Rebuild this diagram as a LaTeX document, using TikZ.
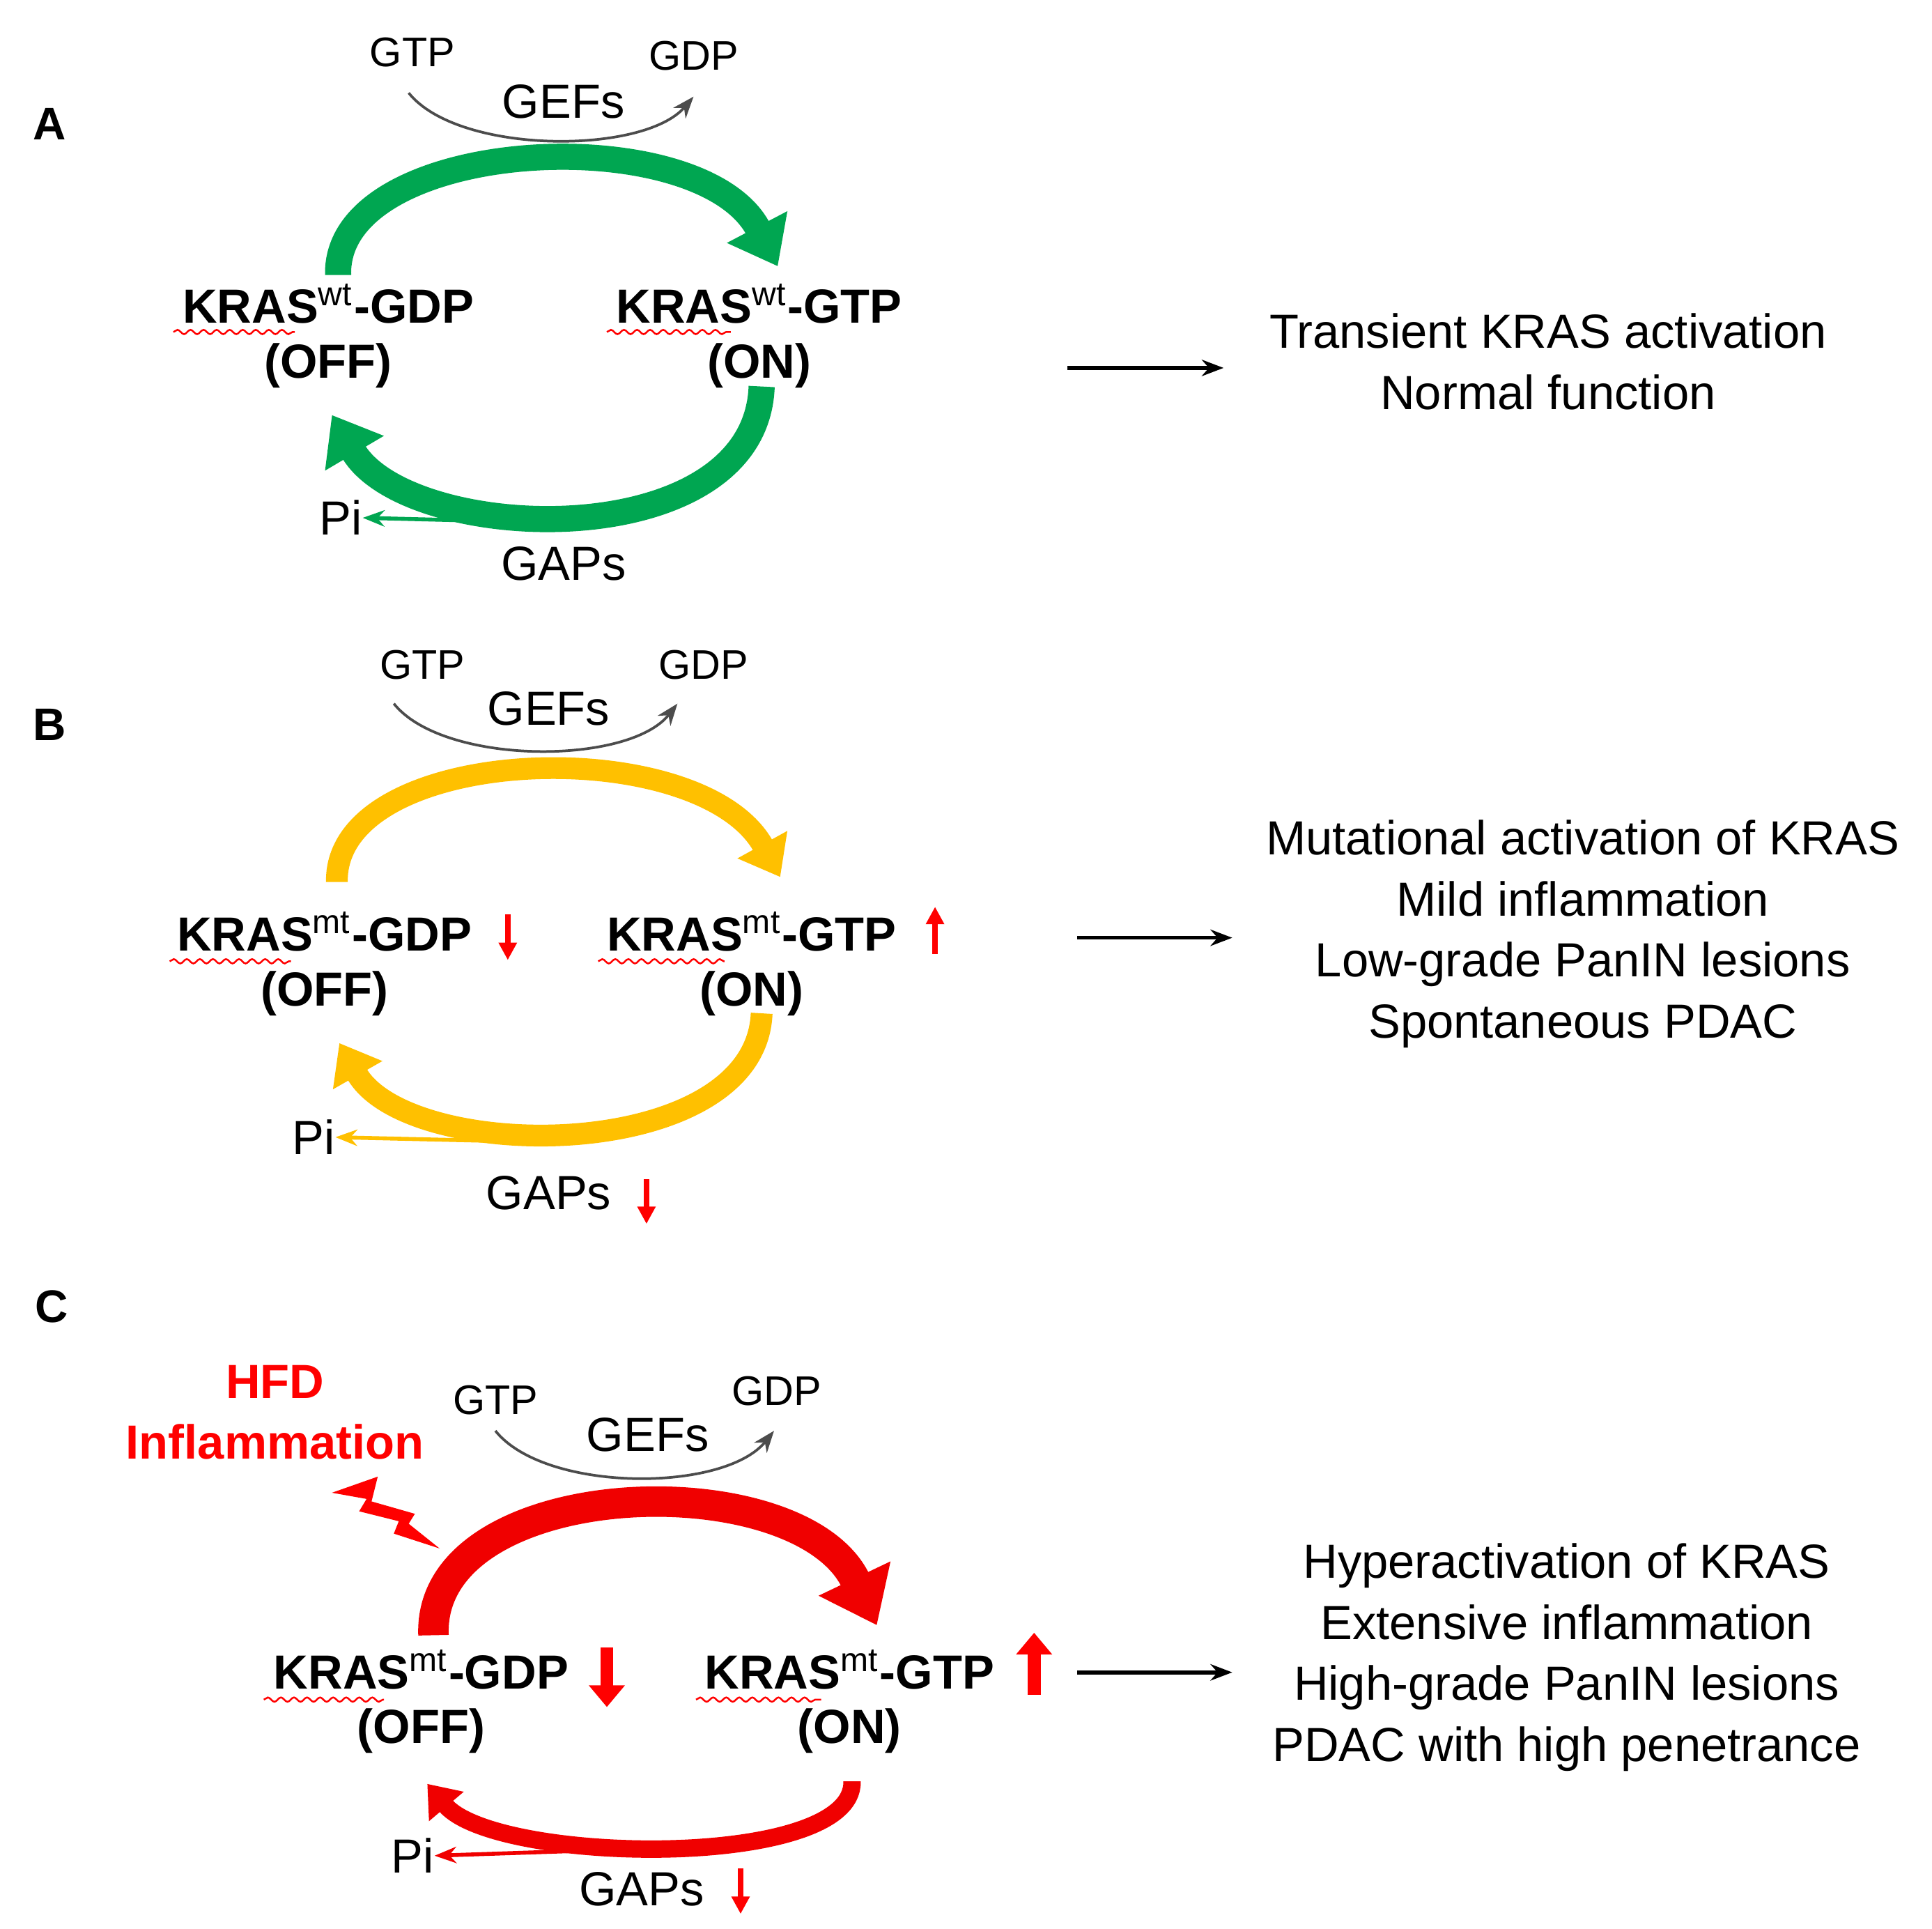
\documentclass[tikz,border=0pt]{standalone}
\usepackage{fontspec}
\setmainfont{Liberation Sans}
\usetikzlibrary{arrows.meta,decorations.pathmorphing}
\definecolor{gA}{RGB}{0,166,81}\definecolor{gAd}{RGB}{0,130,60}
\definecolor{yB}{RGB}{255,192,0}
\definecolor{rC}{RGB}{240,0,0}
\definecolor{rd}{RGB}{255,0,0}
\begin{document}
\begin{tikzpicture}[x=0.1mm,y=-0.1mm,
 txt/.style={font=\fontsize{11}{13}\selectfont,inner sep=0},
 btxt/.style={font=\fontsize{11}{13}\selectfont\bfseries,inner sep=0},
 sm/.style={font=\fontsize{9.5}{11}\selectfont,inner sep=0},
 lab/.style={font=\fontsize{10.5}{12}\selectfont\bfseries,inner sep=0},
 gef/.style={draw=black!70,line width=0.6pt,-{Stealth[length=5pt]}},
 big/.style={line width=#1,-{Triangle[width=2.5*#1,length=1.7*#1]}},
 squig/.style={draw=rd,line width=0.4pt,decorate,decoration={snake,amplitude=0.5pt,segment length=3pt}},
 thin/.style={line width=0.9pt,-{Stealth[length=5pt]}},
 red arr/.style={draw=rd,line width=1.2pt,-{Triangle[width=4pt,length=4pt]}}]
\useasboundingbox (0,0) rectangle (1560,1557);
% ---------------- Panel A
\node[lab] (la) at (40,100) {A};
\node[sm] (gtpA) at (333,42) {GTP};
\node[sm] (gdpA) at (560,45) {GDP};
\node[txt] (gefA) at (455,82) {GEFs};
\coordinate (ga1) at (330,75);\coordinate (ga2) at (560,78);
\draw[gef] (ga1) .. controls (370,125) and (520,125) .. (ga2);
\node[btxt] (offkA) at (265,245) {KRAS\textsuperscript{\mdseries wt}-GDP};
\node[btxt] (offA) at (265,295) {(OFF)};
\node[btxt] (onkA) at (613,245) {KRAS\textsuperscript{\mdseries wt}-GTP};
\node[btxt] (onA) at (613,295) {(ON)};
\draw[squig] (140,268)--(238,268);\draw[squig] (490,268)--(590,268);
\coordinate (a1) at (273,222);\coordinate (a2) at (628,215);
\draw[big=6pt,draw=gA] (a1) .. controls (270,110) and (565,95) .. (a2);
\coordinate (a3) at (615,312);\coordinate (a4) at (268,335);
\draw[big=6pt,draw=gA] (a3) .. controls (610,450) and (330,440) .. (a4);
\node[txt] (piA) at (275,418) {Pi};
\node[txt] (gapA) at (455,455) {GAPs};
\coordinate (pa) at (450,422);
\draw[thin,draw=gA] (pa) -- (piA.east);
\coordinate (ra1) at (862,297);\coordinate (ra2) at (988,297);
\draw[thin,draw=black] (ra1)--(ra2);
\node[txt,align=center] (resA) at (1250,292) {Transient KRAS activation\\[1pt]Normal function};
% ---------------- Panel B
\node[lab] (lb) at (40,585) {B};
\node[sm] (gtpB) at (341,537) {GTP};
\node[sm] (gdpB) at (568,537) {GDP};
\node[txt] (gefB) at (443,572) {GEFs};
\coordinate (gb1) at (318,568);\coordinate (gb2) at (547,568);
\draw[gef] (gb1) .. controls (358,618) and (508,618) .. (gb2);
\node[btxt] (offkB) at (262,752) {KRAS\textsuperscript{\mdseries mt}-GDP};
\node[btxt] (offB) at (262,802) {(OFF)};
\node[btxt] (onkB) at (607,752) {KRAS\textsuperscript{\mdseries mt}-GTP};
\node[btxt] (onB) at (607,802) {(ON)};
\draw[squig] (137,776)--(235,776);\draw[squig] (483,776)--(585,776);
\coordinate (d1) at (410,738);\coordinate (d2) at (410,775);
\draw[red arr] (d1)--(d2);
\coordinate (u1) at (755,770);\coordinate (u2) at (755,732);
\draw[red arr] (u1)--(u2);
\coordinate (b1) at (272,712);\coordinate (b2) at (630,708);
\draw[big=5pt,draw=yB] (b1) .. controls (270,600) and (565,590) .. (b2);
\coordinate (b3) at (615,818);\coordinate (b4) at (274,842);
\draw[big=5pt,draw=yB] (b3) .. controls (610,940) and (330,940) .. (b4);
\node[txt] (piB) at (253,918) {Pi};
\node[txt] (gapB) at (443,963) {GAPs};
\coordinate (pb) at (440,922);
\draw[thin,draw=yB] (pb) -- (piB.east);
\coordinate (gd1) at (522,952);\coordinate (gd2) at (522,988);
\draw[red arr] (gd1)--(gd2);
\coordinate (rb1) at (870,757);\coordinate (rb2) at (995,757);
\draw[thin,draw=black] (rb1)--(rb2);
\node[txt,align=center] (resB) at (1278,754) {Mutational activation of KRAS\\[1pt]Mild inflammation\\[1pt]Low-grade PanIN lesions\\[1pt]Spontaneous PDAC};
% ---------------- Panel C
\node[lab] (lc) at (42,1055) {C};
\node[btxt,text=rd,align=center] (hfd) at (222,1140) {HFD\\[1pt]Inflammation};
\node[sm] (gtpC) at (400,1130) {GTP};
\node[sm] (gdpC) at (627,1123) {GDP};
\node[txt] (gefC) at (523,1158) {GEFs};
\coordinate (gc1) at (400,1155);\coordinate (gc2) at (625,1155);
\draw[gef] (gc1) .. controls (440,1205) and (585,1205) .. (gc2);
\node[btxt] (offkC) at (340,1348) {KRAS\textsuperscript{\mdseries mt}-GDP};
\node[btxt] (offC) at (340,1397) {(OFF)};
\node[btxt] (onkC) at (686,1348) {KRAS\textsuperscript{\mdseries mt}-GTP};
\node[btxt] (onC) at (686,1397) {(ON)};
\draw[squig] (213,1372)--(310,1372);\draw[squig] (562,1372)--(663,1372);
\coordinate (e1) at (350,1320);\coordinate (e2) at (708,1312);
\draw[big=7pt,draw=rC] (e1) .. controls (345,1190) and (645,1180) .. (e2);
\coordinate (e3) at (688,1438);\coordinate (e4) at (345,1440);
\draw[big=4pt,draw=rC] (e3) .. controls (690,1510) and (400,1505) .. (e4);
\coordinate (dc1) at (490,1330);\coordinate (dc2) at (490,1378);
\draw[draw=rd,line width=3pt,-{Triangle[width=8pt,length=5pt]}] (dc1)--(dc2);
\coordinate (uc1) at (835,1368);\coordinate (uc2) at (835,1318);
\draw[draw=rd,line width=3pt,-{Triangle[width=8pt,length=5pt]}] (uc1)--(uc2);
% lightning
\coordinate (lz) at (355,1250);
\fill[rd] (268,1205) -- (305,1192) -- (300,1212) -- (335,1222) -- (330,1230) -- (lz) -- (318,1238) -- (322,1228) -- (290,1220) -- (296,1210) -- cycle;
\node[txt] (piC) at (333,1498) {Pi};
\node[txt] (gapC) at (518,1525) {GAPs};
\coordinate (pc) at (500,1493);
\draw[thin,draw=rC] (pc) -- (piC.east);
\coordinate (gcd1) at (598,1508);\coordinate (gcd2) at (598,1545);
\draw[red arr] (gcd1)--(gcd2);
\coordinate (rc1) at (870,1350);\coordinate (rc2) at (995,1350);
\draw[thin,draw=black] (rc1)--(rc2);
\node[txt,align=center] (resC) at (1265,1338) {Hyperactivation of KRAS\\[1pt]Extensive inflammation\\[1pt]High-grade PanIN lesions\\[1pt]PDAC with high penetrance};
\end{tikzpicture}
\end{document}
